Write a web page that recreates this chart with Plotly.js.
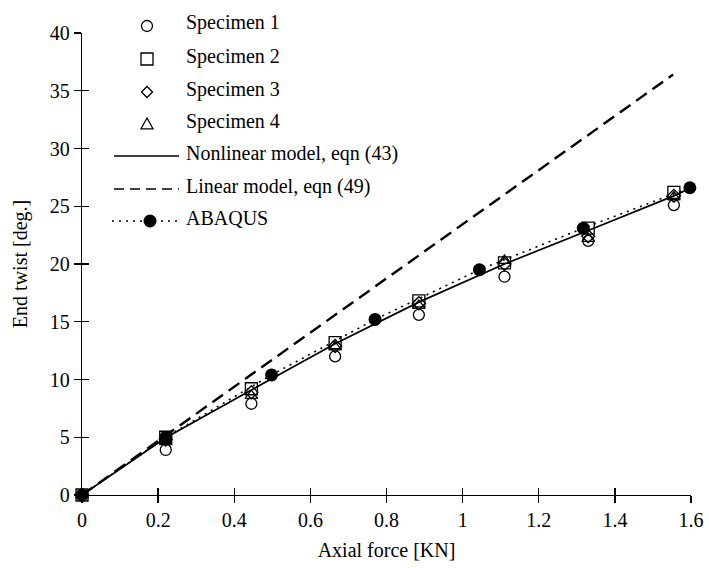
<!DOCTYPE html>
<html><head><meta charset="utf-8">
<script src="https://cdn.plot.ly/plotly-3.0.1.min.js"></script>
<style>body{margin:0;background:#fff}#chart{width:709px;height:568px}</style>
</head><body><div id="chart"></div>
<script>
// ---- data ----
const forceSpec = [0, 0.22, 0.445, 0.665, 0.885, 1.11, 1.33, 1.555];
const specimen1 = [0, 3.9, 7.9, 12.0, 15.6, 18.9, 22.0, 25.1];
const specimen2 = [0, 5.0, 9.2, 13.2, 16.8, 20.1, 23.1, 26.2];
const specimen3 = [0, 4.8, 8.9, 12.9, 16.6, 20.0, 22.4, 25.9];
const specimen4 = [0, 4.6, 8.6, 12.8, 16.4, 20.3, 22.2, 25.8];
const forceNonlin = [0, 0.22, 0.445, 0.665, 0.885, 1.11, 1.33, 1.555, 1.6];
const twistNonlin = [0, 4.95, 9.1, 13.1, 16.7, 20.0, 22.9, 25.9, 26.6];
const forceLinear = [0, 1.553];
const twistLinear = [0, 36.4];
const forceAbaqus = [0, 0.22, 0.498, 0.77, 1.044, 1.317, 1.597];
const twistAbaqus = [0, 5.0, 10.4, 15.2, 19.5, 23.1, 26.6];
const xTicks = [0, 0.2, 0.4, 0.6, 0.8, 1, 1.2, 1.4, 1.6];
const xTickText = ['0', '0.2', '0.4', '0.6', '0.8', '1', '1.2', '1.4', '1.6'];
const yTicks = [0, 5, 10, 15, 20, 25, 30, 35, 40];
const legendNames = ['Specimen 1', 'Specimen 2', 'Specimen 3', 'Specimen 4',
  'Nonlinear model, eqn (43)', 'Linear model, eqn (49)', 'ABAQUS'];

// ---- layout geometry ----
const W = 709, H = 568;
const L = 82, R = 691, T = 33, B = 495;
const FONT = 'Liberation Serif, Times New Roman, serif';
const px = p => (p - L) / (R - L);
const py = p => (B - p) / (B - T);

const openMarker = (sym, size) => ({symbol: sym, size: size, color: '#000', line: {color: '#000', width: 1.3}});

const traces = [
  {x: forceLinear, y: twistLinear, mode: 'lines', line: {color: '#000', width: 2.4, dash: '13px,7px'}},
  {x: forceNonlin, y: twistNonlin, mode: 'lines', line: {color: '#000', width: 1.7}},
  {x: forceAbaqus, y: twistAbaqus, mode: 'lines+markers', line: {color: '#000', width: 1.6, dash: '2px,5px'},
    marker: {symbol: 'circle', size: 13, color: '#000'}},
  {x: forceSpec, y: specimen1, mode: 'markers', marker: openMarker('circle-open', 11)},
  {x: forceSpec, y: specimen2, mode: 'markers', marker: openMarker('square-open', 12)},
  {x: forceSpec, y: specimen3, mode: 'markers', marker: openMarker('diamond-open', 10)},
  {x: forceSpec, y: specimen4, mode: 'markers', marker: openMarker('triangle-up-open', 11)}
].map(t => Object.assign(t, {showlegend: false, hoverinfo: 'skip', cliponaxis: false}));

// ---- custom legend (layout shapes + annotations) ----
const rowY = [26, 59, 92, 124, 156, 189, 221];
const mX = 147;
const shapes = [];
const ann = [];
const pr = {xref: 'paper', yref: 'paper'};
const ln = {color: '#000', width: 1.3};
shapes.push(Object.assign({type: 'circle', x0: px(mX - 5.5), x1: px(mX + 5.5), y0: py(rowY[0] - 5.5), y1: py(rowY[0] + 5.5), line: ln}, pr));
shapes.push(Object.assign({type: 'rect', x0: px(mX - 6), x1: px(mX + 6), y0: py(rowY[1] - 6), y1: py(rowY[1] + 6), line: ln}, pr));
{
  const c = rowY[2], d = 5.5;
  shapes.push(Object.assign({type: 'path', path: `M ${px(mX)} ${py(c - d)} L ${px(mX + d)} ${py(c)} L ${px(mX)} ${py(c + d)} L ${px(mX - d)} ${py(c)} Z`, line: ln}, pr));
}
{
  const c = rowY[3], d = 6;
  shapes.push(Object.assign({type: 'path', path: `M ${px(mX)} ${py(c - d)} L ${px(mX + d)} ${py(c + d * 0.8)} L ${px(mX - d)} ${py(c + d * 0.8)} Z`, line: ln}, pr));
}
shapes.push(Object.assign({type: 'line', x0: px(114), x1: px(179), y0: py(rowY[4]), y1: py(rowY[4]), line: {color: '#000', width: 1.7}}, pr));
shapes.push(Object.assign({type: 'line', x0: px(114), x1: px(179), y0: py(rowY[5]), y1: py(rowY[5]), line: {color: '#000', width: 1.7, dash: '10px,6px'}}, pr));
shapes.push(Object.assign({type: 'line', x0: px(112), x1: px(180), y0: py(rowY[6]), y1: py(rowY[6]), line: {color: '#000', width: 1.6, dash: '2px,5px'}}, pr));
shapes.push(Object.assign({type: 'circle', x0: px(mX + 3 - 6.5), x1: px(mX + 3 + 6.5), y0: py(rowY[6] - 6.5), y1: py(rowY[6] + 6.5), fillcolor: '#000', line: {color: '#000', width: 0}}, pr));

legendNames.forEach((name, i) => {
  ann.push(Object.assign({x: px(184), y: py(rowY[i] - 3), text: name, showarrow: false, xanchor: 'left', yanchor: 'middle',
    font: {family: FONT, size: 20, color: '#000'}}, pr));
});

const axisCommon = {showgrid: false, zeroline: false, showline: true, linecolor: '#000', linewidth: 1.3,
  ticks: 'outside', ticklen: 7, tickwidth: 1.3, tickcolor: '#000', tickfont: {family: FONT, size: 20, color: '#000'}};

const layout = {
  width: W, height: H,
  margin: {l: L, r: W - R, t: T, b: H - B, pad: 0},
  paper_bgcolor: '#fff', plot_bgcolor: '#fff',
  font: {family: FONT, size: 20, color: '#000'},
  showlegend: false,
  xaxis: Object.assign({}, axisCommon, {range: [0, 1.6], tickvals: xTicks, ticktext: xTickText,
    title: {text: 'Axial force [KN]', font: {family: FONT, size: 20, color: '#000'}, standoff: 12}}),
  yaxis: Object.assign({}, axisCommon, {range: [0, 40], tickvals: yTicks,
    title: {text: 'End twist [deg.]', font: {family: FONT, size: 20, color: '#000'}, standoff: 16}}),
  xaxis2: {overlaying: 'x', anchor: 'y', range: [0, 1.6], tickvals: xTicks, ticks: 'inside', ticklen: 7, tickwidth: 1.3, tickcolor: '#000',
    showticklabels: false, showgrid: false, zeroline: false, showline: false, side: 'bottom'},
  yaxis2: {overlaying: 'y', anchor: 'x', range: [0, 40], tickvals: yTicks, ticks: 'inside', ticklen: 7, tickwidth: 1.3, tickcolor: '#000',
    showticklabels: false, showgrid: false, zeroline: false, showline: false, side: 'left'},
  shapes: shapes,
  annotations: ann
};

traces[0].xaxis = 'x2';
traces[0].yaxis = 'y2';

Plotly.newPlot('chart', traces, layout, {staticPlot: true, displayModeBar: false});
</script>
</body></html>
